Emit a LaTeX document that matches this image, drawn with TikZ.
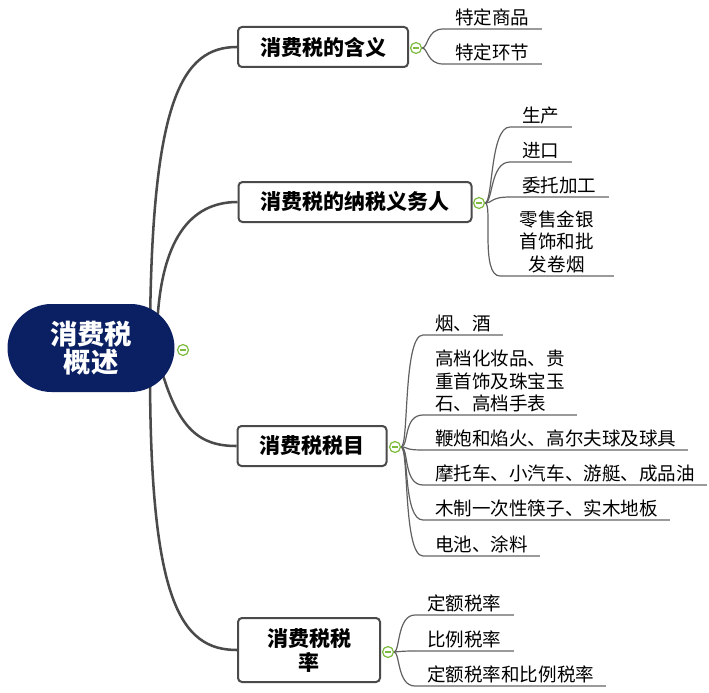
\documentclass[tikz,border=0pt]{standalone}
\usepackage{fontspec}
\setmainfont{Noto Sans CJK SC}
\usetikzlibrary{backgrounds}
\definecolor{rootblue}{HTML}{0B2062}
\definecolor{boxgray}{HTML}{4A4A4A}
\definecolor{twiggray}{HTML}{606060}
\definecolor{linegray}{HTML}{9A9A9A}
\definecolor{togglegreen}{HTML}{7DBB3F}
\begin{document}
\begin{tikzpicture}[x=0.75pt,y=-0.75pt,
  rootnode/.style={fill=rootblue, text=white, rounded corners=33pt, minimum width=125.25pt, minimum height=66pt, align=center, font=\bfseries\fontsize{20.5}{21.5}\selectfont},
  branchbox/.style={draw=boxgray, fill=white, line width=1.5pt, rounded corners=3pt, minimum height=30pt, inner xsep=16.5pt, align=center, font=\bfseries\fontsize{15.75}{18}\selectfont},
  leaf/.style={anchor=south west, inner xsep=9pt, inner ysep=2pt, font=\fontsize{13.9}{16.9}\selectfont},
  toggle/.style={circle, draw=togglegreen, fill=white, line width=0.9pt, minimum size=8.2pt, inner sep=0pt,
    path picture={\draw[togglegreen, line width=1pt] ([xshift=-2.2pt]path picture bounding box.center) -- ([xshift=2.2pt]path picture bounding box.center);}},
  limb/.style={draw=boxgray, line width=1.9pt},
  twig/.style={draw=twiggray, line width=0.9pt},
  uline/.style={draw=linegray, line width=1.1pt}]
\useasboundingbox (0,0) rectangle (709,692);

\node[rootnode] (root) at (91,348) {消费税\\概述};
\node[toggle] (t0) at (183,350) {};

% main topics
\node[branchbox] (b1) at (323,47) {消费税的含义};
\node[branchbox] (b2) at (355,202) {消费税的纳税义务人};
\node[branchbox] (b3) at (312,446) {消费税税目};
\node[branchbox, minimum width=106.5pt, minimum height=48pt] (b4) at (309,650) {消费税税\\率};
\node[toggle] (t1) at (416,48) {};
\node[toggle] (t2) at (479,203) {};
\node[toggle] (t3) at (395,447) {};
\node[toggle] (t4) at (388,652) {};

% subtopics
\node[leaf] (l11) at (443,29) {特定商品};
\node[leaf] (l12) at (443,64) {特定环节};

\node[leaf] (l21) at (510,127) {生产};
\node[leaf] (l22) at (510,162) {进口};
\node[leaf] (l23) at (510,197) {委托加工};
\node[leaf, minimum width=84.75pt, align=center] (l24) at (500,276) {零售金银\\首饰和批\\发卷烟};

\node[leaf] (l31) at (423,335) {烟、酒};
\node[leaf, align=left] (l32) at (423,415) {高档化妆品、贵\\重首饰及珠宝玉\\石、高档手表};
\node[leaf] (l33) at (423,450) {鞭炮和焰火、高尔夫球及球具};
\node[leaf] (l34) at (423,485) {摩托车、小汽车、游艇、成品油};
\node[leaf] (l35) at (423,520) {木制一次性筷子、实木地板};
\node[leaf] (l36) at (423,556) {电池、涂料};

\node[leaf] (l41) at (415,615) {定额税率};
\node[leaf] (l42) at (415,651) {比例税率};
\node[leaf] (l43) at (415,686) {定额税率和比例税率};

\foreach \n in {l11,l12,l21,l22,l23,l24,l31,l32,l33,l34,l35,l36,l41,l42,l43}
  \draw[uline] (\n.south west) -- (\n.south east);

\begin{scope}[on background layer]
\draw[limb] (150,330) .. controls (152,100) and (182,47) .. (b1.west);
\draw[limb] (157,330) .. controls (160,240) and (190,202) .. (b2.west);
\draw[limb] (160,365) .. controls (178,430) and (200,446) .. (b3.west);
\draw[limb] (150,370) .. controls (150,600) and (180,650) .. (b4.west);

\foreach \n in {l11,l12}
  \draw[twig] (t1) .. controls +(12,0) and +(-16,0) .. (\n.south west);
\foreach \n in {l21,l22,l23,l24}
  \draw[twig] (t2) .. controls +(14,0) and +(-20,0) .. (\n.south west);
\foreach \n in {l31,l32,l33,l34,l35,l36}
  \draw[twig] (t3) .. controls +(14,0) and +(-20,0) .. (\n.south west);
\foreach \n in {l41,l42,l43}
  \draw[twig] (t4) .. controls +(12,0) and +(-18,0) .. (\n.south west);
\end{scope}
\end{tikzpicture}
\end{document}
